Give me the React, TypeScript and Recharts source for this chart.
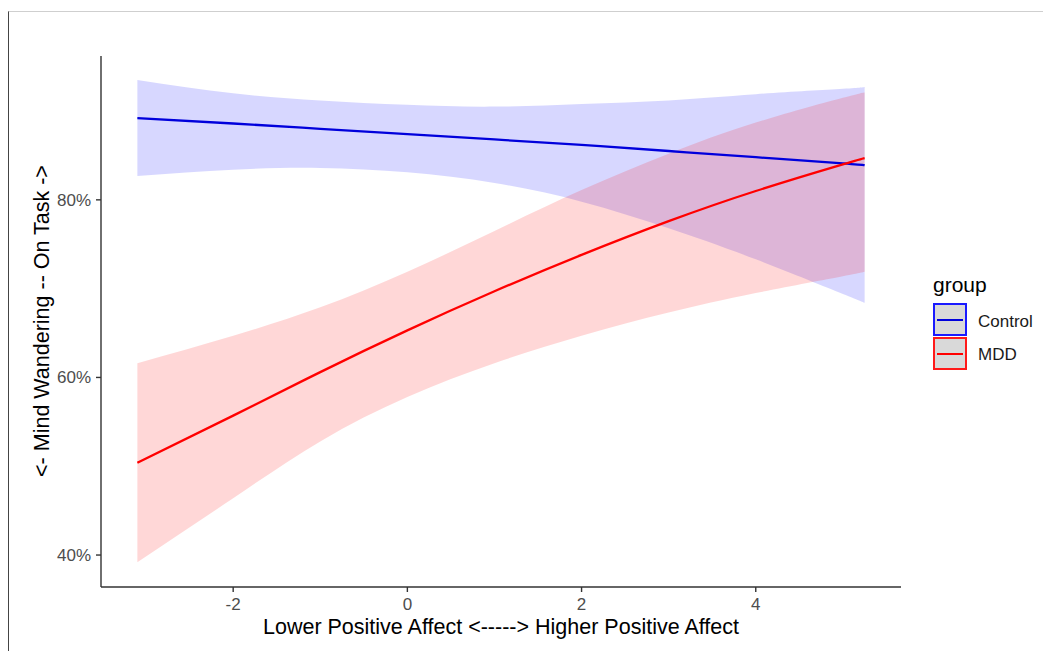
import React from 'react';
import { ComposedChart, Area, Line, XAxis, YAxis } from 'recharts';

// Predictor values (Positive Affect, centred)
const xValues = [-3.1, -2, -1, 0, 1, 2, 3, 4, 5, 5.25];
// Control group: fitted % on task, and confidence band
const controlFit = [89.2, 88.6, 88.0, 87.4, 86.8, 86.2, 85.5, 84.8, 84.1, 83.9];
const controlUpper = [93.5, 92.0, 91.2, 90.7, 90.5, 90.8, 91.2, 91.9, 92.5, 92.7];
const controlLower = [82.7, 83.4, 83.6, 83.1, 81.9, 79.8, 76.8, 73.3, 69.4, 68.4];
// MDD group
const mddFit = [50.4, 55.7, 60.6, 65.3, 69.7, 73.8, 77.6, 81.0, 84.0, 84.7];
const mddUpper = [61.6, 64.7, 67.9, 71.9, 76.5, 81.1, 85.2, 88.7, 91.5, 92.1];
const mddLower = [39.2, 46.4, 52.8, 57.8, 61.6, 64.7, 67.3, 69.5, 71.4, 71.9];

const xTicks = [-2, 0, 2, 4];
const yTicks = [40, 60, 80];
const groups = ['Control', 'MDD'];

const BLUE = '#0000dc';
const RED = '#ff0000';
const FONT = '"Liberation Sans", Arial, Helvetica, sans-serif';

const data = xValues.map((x, i) => ({
  x,
  control: controlFit[i],
  controlBand: [controlLower[i], controlUpper[i]],
  mdd: mddFit[i],
  mddBand: [mddLower[i], mddUpper[i]],
}));

const axisStyle = { stroke: '#333333', strokeWidth: 1.4 };

export default function App() {
  const colors = [BLUE, RED];
  const borders = ['#1a1aff', '#ff1a1a'];
  return (
    <div style={{ position: 'relative', width: 1043, height: 643, fontFamily: FONT }}>
      <div
        style={{
          position: 'absolute',
          left: 0,
          top: 3,
          width: 1043,
          height: 640,
          borderTop: '1px solid #cfcfcf',
          borderLeft: '1px solid #444',
          boxSizing: 'border-box',
        }}
      />
      <div style={{ position: 'absolute', left: 0, top: 0 }}>
        <ComposedChart
          width={1043}
          height={643}
          data={data}
          margin={{ top: 48, right: 150, bottom: 34, left: 0 }}
        >
          <XAxis
            dataKey="x"
            type="number"
            domain={[-3.5175, 5.6675]}
            ticks={xTicks}
            allowDataOverflow
            height={30}
            tickSize={5}
            tickMargin={6}
            axisLine={axisStyle}
            tickLine={axisStyle}
            tick={{ fill: '#4d4d4d', fontSize: 17, fontFamily: FONT }}
          />
          <YAxis
            type="number"
            domain={[36.4, 96.2]}
            ticks={yTicks}
            allowDataOverflow
            width={93}
            tickSize={5}
            tickMargin={5}
            tickFormatter={(v: number) => `${v}%`}
            axisLine={axisStyle}
            tickLine={axisStyle}
            tick={{ fill: '#4d4d4d', fontSize: 17, fontFamily: FONT }}
          />
          <Area
            dataKey="controlBand"
            type="natural"
            stroke="none"
            fill="#0000ff"
            fillOpacity={0.155}
            isAnimationActive={false}
            activeDot={false}
          />
          <Line
            dataKey="control"
            type="natural"
            stroke={BLUE}
            strokeWidth={2.3}
            dot={false}
            activeDot={false}
            isAnimationActive={false}
          />
          <Area
            dataKey="mddBand"
            type="natural"
            stroke="none"
            fill="#ff0000"
            fillOpacity={0.155}
            isAnimationActive={false}
            activeDot={false}
          />
          <Line
            dataKey="mdd"
            type="natural"
            stroke={RED}
            strokeWidth={2.3}
            dot={false}
            activeDot={false}
            isAnimationActive={false}
          />
        </ComposedChart>
      </div>
      {/* Axis titles */}
      <div
        style={{
          position: 'absolute',
          left: 493,
          top: 619.5,
          transform: 'translate(-50%, -50%)',
          fontSize: 21.5,
          lineHeight: 1,
          whiteSpace: 'nowrap',
          color: '#000',
        }}
      >
        {'Lower Positive Affect <-----> Higher Positive Affect'}
      </div>
      <div
        style={{
          position: 'absolute',
          left: 35,
          top: 313,
          transform: 'translate(-50%, -50%) rotate(-90deg)',
          fontSize: 21.5,
          lineHeight: 1,
          whiteSpace: 'nowrap',
          color: '#000',
        }}
      >
        {'<- Mind Wandering -- On Task ->'}
      </div>
      {/* Legend */}
      <div
        style={{
          position: 'absolute',
          left: 925,
          top: 275.5,
          transform: 'translateY(-50%)',
          fontSize: 21,
          lineHeight: 1,
          color: '#000',
        }}
      >
        group
      </div>
      {groups.map((g, i) => (
        <React.Fragment key={g}>
          <div
            style={{
              position: 'absolute',
              left: 925,
              top: 295 + i * 34,
              width: 34,
              height: 33,
              boxSizing: 'border-box',
              border: `2px solid ${borders[i]}`,
              background: '#d9d9d9',
            }}
          >
            <div
              style={{
                position: 'absolute',
                left: 2,
                right: 2,
                top: 13.5,
                height: 2.3,
                background: colors[i],
              }}
            />
          </div>
          <div
            style={{
              position: 'absolute',
              left: 970,
              top: 313 + i * 33,
              transform: 'translateY(-50%)',
              fontSize: 17,
              lineHeight: 1,
              color: '#1a1a1a',
            }}
          >
            {g}
          </div>
        </React.Fragment>
      ))}
    </div>
  );
}
